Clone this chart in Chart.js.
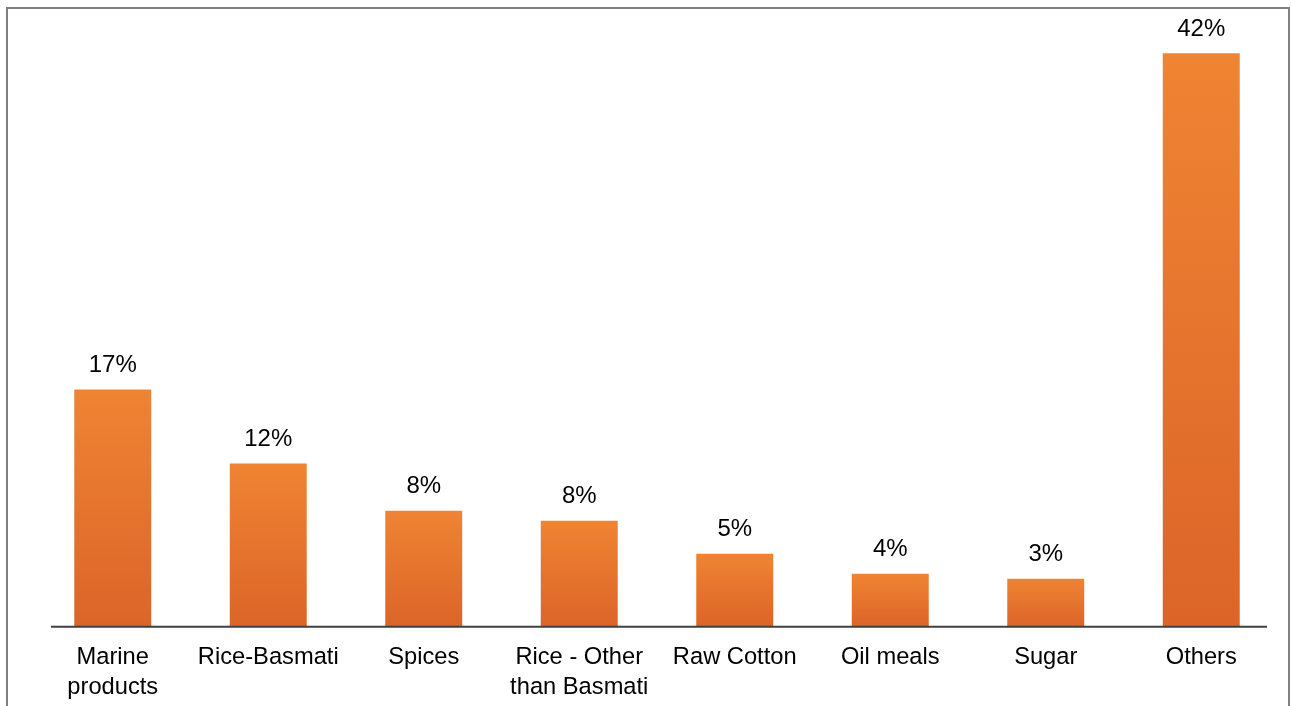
<!DOCTYPE html>
<html>
<head>
<meta charset="utf-8">
<script src="https://cdn.jsdelivr.net/npm/chart.js@4/dist/chart.umd.min.js"></script>
<style>
  body { margin: 0; background: #fff; overflow: hidden; }
  #frame { position: absolute; left: 6px; top: 7px; width: 1280px; height: 720px; border: 2px solid #7f7f7f; border-bottom: none; }
  #wrap { position: absolute; left: 0; top: 0; width: 1292px; height: 715px; }
</style>
</head>
<body>
<div id="frame"></div>
<div id="wrap"><canvas id="myChart"></canvas></div>
<script>
// share of exports by product
let categories = [["Marine", "products"], "Rice-Basmati", "Spices", ["Rice - Other", "than Basmati"], "Raw Cotton", "Oil meals", "Sugar", "Others"];
let shares = [17.37, 11.95, 8.5, 7.77, 5.35, 3.88, 3.52, 42];
let shareLabels = ["17%", "12%", "8%", "8%", "5%", "4%", "3%", "42%"];

let fontFamily = "'Liberation Sans', Arial, sans-serif";

function barGradient(context) {
  let chart = context.chart;
  if (!chart.chartArea) return "#E8772F";
  let y = chart.scales.y;
  let top = y.getPixelForValue(context.raw);
  let bottom = y.getPixelForValue(0);
  let g = chart.ctx.createLinearGradient(0, top, 0, bottom);
  g.addColorStop(0, "#EF8433");
  g.addColorStop(1, "#DC6428");
  return g;
}

// value labels above the bars + the category axis line
let valueLabels = {
  id: "valueLabels",
  afterDatasetsDraw(chart) {
    let ctx = chart.ctx;
    let meta = chart.getDatasetMeta(0);
    let area = chart.chartArea;
    let base = chart.scales.y.getPixelForValue(0);
    ctx.save();
    ctx.strokeStyle = "#404040";
    ctx.lineWidth = 2;
    ctx.beginPath();
    ctx.moveTo(area.left + 16, base);
    ctx.lineTo(area.right - 12, base);
    ctx.stroke();

    ctx.font = "24px " + fontFamily;
    ctx.fillStyle = "#000";
    ctx.textAlign = "center";
    ctx.textBaseline = "bottom";
    meta.data.forEach((bar, i) => {
      ctx.fillText(shareLabels[i], bar.x, bar.y - 12);
    });
    ctx.restore();
  },
};

let ctx = document.getElementById("myChart").getContext("2d");
let myChart = new Chart(ctx, {
  type: "bar",
  data: {
    labels: categories,
    datasets: [
      {
        data: shares,
        backgroundColor: barGradient,
        borderWidth: 0,
        barPercentage: 0.495,
        categoryPercentage: 1,
      },
    ],
  },
  options: {
    responsive: true,
    maintainAspectRatio: false,
    animation: false,
    layout: { padding: { left: 35, right: 13, top: 0, bottom: 4 } },
    plugins: { legend: { display: false }, tooltip: { enabled: false } },
    scales: {
      x: {
        grid: { display: false },
        border: { display: false },
        ticks: {
          color: "#000",
          padding: 8,
          maxRotation: 0,
          autoSkip: false,
          font: { family: fontFamily, size: 23.7, lineHeight: 1.27 },
        },
      },
      y: {
        display: false,
        min: 0,
        max: 45.9,
      },
    },
  },
  plugins: [valueLabels],
});
</script>
</body>
</html>
